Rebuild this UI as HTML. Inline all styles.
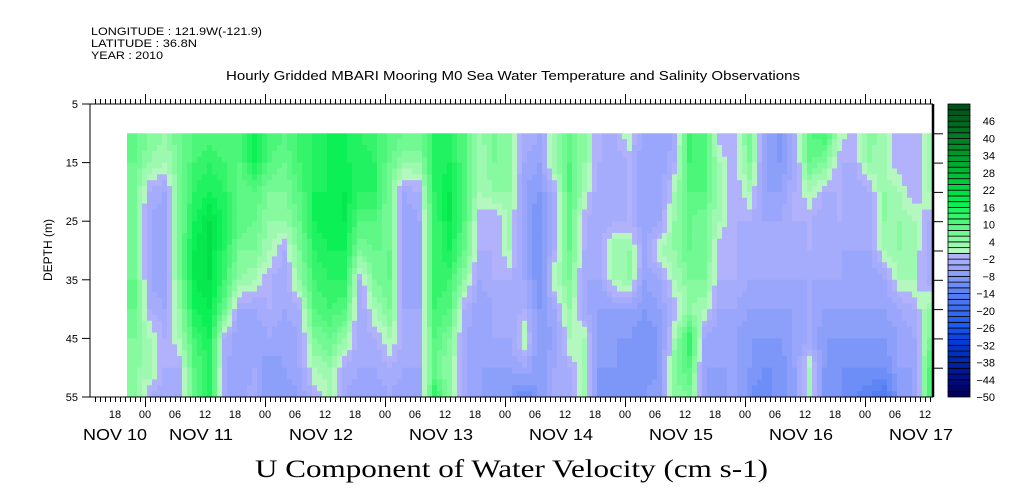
<!DOCTYPE html>
<html><head><meta charset="utf-8"><style>
body{margin:0;background:#fff;width:1009px;height:504px;overflow:hidden;font-family:"Liberation Sans",sans-serif}
svg{display:block}
</style></head><body>
<svg id="chart" width="1009" height="504" xmlns="http://www.w3.org/2000/svg" font-family="Liberation Sans, sans-serif">
<text x="91" y="35" font-size="11" textLength="171" lengthAdjust="spacingAndGlyphs">LONGITUDE : 121.9W(-121.9)</text>
<text x="91" y="47" font-size="11" textLength="106" lengthAdjust="spacingAndGlyphs">LATITUDE : 36.8N</text>
<text x="91" y="59" font-size="11" textLength="72" lengthAdjust="spacingAndGlyphs">YEAR : 2010</text>
<text x="226" y="80" font-size="12.5" textLength="574" lengthAdjust="spacingAndGlyphs">Hourly Gridded MBARI Mooring M0 Sea Water Temperature and Salinity Observations</text>
<text x="255" y="477" font-size="25" font-family="Liberation Serif, serif" textLength="513" lengthAdjust="spacingAndGlyphs">U Component of Water Velocity (cm s-1)</text>
<text transform="translate(52,250) rotate(-90)" font-size="12" text-anchor="middle">DEPTH (m)</text>
<g id="cells"></g>
<g id="axes"></g>
<g id="cbar"></g>
</svg>
<script>
// depth rows (m)
const depths = [10,15,20,25,30,35,40,45,50,55];
// column start times: hours since Nov 10 00:00, 3-hour steps
const colStartHour = 20.4;
const colStepHours = 3;
// U velocity values (cm/s), one array per 3-hour column, top to bottom
const values = [
[8,8,6,6,6,8,8,6,4,4],[6,4,-2,-4,-4,-4,-2,2,4,-2],[4,2,-4,-6,-6,-6,-4,-2,-2,-4],[8,6,6,6,8,6,4,2,-2,-4],
[10,12,14,16,18,18,16,12,10,8],[10,14,16,20,20,20,18,16,14,14],[10,12,14,16,14,12,8,-2,-4,-4],[12,10,8,10,6,4,-4,-6,-6,-6],
[18,16,10,8,6,2,-4,-6,-4,-2],[12,10,6,4,2,-2,-2,-4,-8,-8],[10,8,6,4,-2,-4,-4,-6,-6,-8],[12,12,10,8,6,4,-2,-4,-4,-6],
[14,14,16,16,14,12,10,6,2,-2],[16,16,16,18,16,14,12,8,4,2],[16,16,18,18,16,14,10,4,-2,-4],[14,16,14,10,6,-2,-4,-4,-4,-6],
[12,14,14,10,8,6,2,-2,-4,-6],[10,8,6,6,8,8,6,2,-2,-4],[8,4,-4,-6,-6,-6,-4,-2,-4,-6],[8,4,-2,-4,-6,-6,-4,-4,-4,-6],
[14,14,14,12,12,14,12,10,8,14],[14,16,18,18,16,12,10,6,4,4],[10,10,10,10,8,4,-2,-4,-4,-4],[4,2,2,-2,-2,-4,-6,-6,-6,-6],
[6,6,4,-2,-2,-2,-4,-4,-6,-8],[4,4,4,2,2,-2,-4,-4,-6,-8],[-2,-4,-6,-6,-6,-4,-2,2,-4,-12],[-4,-6,-8,-10,-10,-10,-8,-8,-8,-8],
[2,4,-2,-4,-2,2,-4,-6,-4,-4],[8,10,10,8,8,6,4,2,-2,-4],[4,4,2,-2,-2,-4,-4,2,2,2],[-2,-2,-4,-4,-2,-4,-6,-8,-8,-10],
[-2,-4,-4,-2,4,2,-6,-8,-8,-10],[2,-2,-2,-2,4,4,-6,-8,-10,-10],[-6,-6,-6,-6,-4,-6,-8,-10,-10,-8],[-6,-6,-6,-4,2,-4,-6,-8,-8,-6],
[-4,-2,2,4,4,2,-2,2,6,4],[12,12,10,8,8,6,4,14,10,6],[10,10,10,6,8,6,2,-4,-6,-6],[-2,2,2,2,-2,-2,-4,-6,-6,-8],
[-2,-2,-2,-2,-2,-2,-4,-6,-6,-4],[8,6,2,-2,-4,-4,-6,-8,-8,-10],[-4,-6,-6,-4,-4,-4,-6,-8,-10,-12],[-10,-8,-6,-4,-2,-4,-6,-8,-10,-8],
[-4,-4,-2,-2,-4,-4,-6,-6,-6,-8],[10,8,2,-2,-2,-4,-4,-4,2,4],[12,6,-2,-4,-4,-4,-6,-8,-8,-10],[2,-2,-2,-2,-4,-4,-6,-8,-10,-10],
[-2,-2,-4,-4,-4,-6,-6,-8,-10,-12],[6,4,-2,-4,-4,-6,-6,-8,-10,-14],[2,2,4,4,2,-4,-6,-8,-10,-16],[-2,-2,2,4,4,2,-4,-6,-6,-8],
[-2,-2,-2,2,2,2,-2,-4,-6,-6],[2,2,2,-2,-4,-4,4,6,10,12]
];
const hourLabels = ["18","00","06","12"];
const dayLabels = ["NOV 10","NOV 11","NOV 12","NOV 13","NOV 14","NOV 15","NOV 16","NOV 17"];
const depthTicks = [5,15,25,35,45,55];
const cbarTicks = [46,40,34,28,22,16,10,4,-2,-8,-14,-20,-26,-32,-38,-44,-50];

const NS="http://www.w3.org/2000/svg";
const L=90,R=933,T=104,B=397;
const hx = h => 145 + (h-24)*5;           // hours since Nov 10 00:00 -> px
const dy = d => T + (d-5)*(B-T)/50;        // depth -> px
const vmin=-50, vmax=52;
const stops=[[-50,[0,0,90]],[-44,[0,16,140]],[-38,[0,40,175]],[-32,[0,60,215]],[-26,[30,90,240]],[-20,[60,110,240]],[-14,[95,133,245]],[-8,[140,160,250]],[-2,[178,178,252]],[0,[180,248,192]],[4,[135,250,160]],[10,[75,246,120]],[16,[10,240,85]],[22,[0,215,64]],[28,[0,180,52]],[34,[0,150,44]],[40,[0,122,37]],[46,[0,96,32]],[52,[0,72,24]]];
function color(v){
  let q=Math.floor(v/2)*2; if(q<vmin)q=vmin; if(q>50)q=50;
  for(let i=0;i<stops.length-1;i++){const a=stops[i],b=stops[i+1];
    if(q>=a[0]&&q<=b[0]){const t=(q-a[0])/(b[0]-a[0]||1);
      const c=a[1].map((x,j)=>Math.round(x+(b[1][j]-x)*t));return `rgb(${c})`;}}
  return 'rgb(0,72,24)';
}
function mk(tag,attrs,parent){const e=document.createElementNS(NS,tag);for(const k in attrs)e.setAttribute(k,attrs[k]);parent.appendChild(e);return e;}

// heatmap: bilinear interpolation, 1-hour x 1-m sub-cells
const cells=document.getElementById('cells');
function sample(ci,d){
  const col=values[ci];
  const k=Math.min(depths.length-2,Math.max(0,Math.floor((d-depths[0])/5)));
  const t=Math.min(1,Math.max(0,(d-depths[k])/5));
  return col[k]+(col[k+1]-col[k])*t;
}
const nC=values.length;
for(let i=0;i<nC;i++){
  for(let s=0;s<3;s++){
    const h0=colStartHour+i*colStepHours+s, x0=hx(h0), x1=Math.min(R,hx(h0+1));
    if(x0>=R) continue;
    const fc=i+(s+0.5)/3-0.5; // fractional column centre
    const ia=Math.max(0,Math.floor(fc)), ib=Math.min(nC-1,ia+1), tf=Math.max(0,Math.min(1,fc-ia));
    for(let d=depths[0]; d<depths[depths.length-1]; d+=1){
      const v=sample(ia,d+0.5)*(1-tf)+sample(ib,d+0.5)*tf;
      const r=mk('rect',{x:x0,y:dy(d),width:x1-x0+0.6,height:dy(d+1)-dy(d)+0.6,fill:color(v)},cells);
      
      
    }
  }
}

const ax=document.getElementById('axes');
mk('line',{x1:L,y1:T,x2:R,y2:T,stroke:'#000','stroke-width':1},ax);
mk('line',{x1:L,y1:B,x2:R,y2:B,stroke:'#000','stroke-width':1},ax);
mk('line',{x1:L,y1:T,x2:L,y2:B,stroke:'#000','stroke-width':1},ax);
mk('line',{x1:R,y1:T,x2:R,y2:B,stroke:'#000','stroke-width':2.5},ax);
for(let h=14; h<=181; h++){
  const x=hx(h)+0.5; const big=(h%24===0);
  mk('line',{x1:x,y1:T,x2:x,y2:T-(big?10:5),stroke:'#000'},ax);
  mk('line',{x1:x,y1:B,x2:x,y2:B+(big?10:5),stroke:'#000'},ax);
}
for(let h=18; h<=180; h+=6){
  const t=mk('text',{x:hx(h),y:418,'font-size':11,'text-anchor':'middle'},ax);
  t.textContent=hourLabels[(h/6-3+4)%4];
  
  
}
dayLabels.forEach((s,i)=>{
  const cx = i===0 ? 115 : hx(i*24+12)-4;
  const t=mk('text',{x:cx-32,y:440,'font-size':16,textLength:64,lengthAdjust:'spacingAndGlyphs'},ax);
  t.textContent=s;
  
  
});
depthTicks.forEach(d=>{
  const t=mk('text',{x:78,y:dy(d)+4,'font-size':11,'text-anchor':'end'},ax);
  t.textContent=d;
  
  
  mk('line',{x1:L-8,y1:dy(d),x2:L,y2:dy(d),stroke:'#000'},ax);
});
for(let d=10; d<=50; d+=5){ mk('line',{x1:R,y1:dy(d)+0.5,x2:R+10,y2:dy(d)+0.5,stroke:'#000'},ax); }

const cb=document.getElementById('cbar');
const cT=104,cB=397,cL=948,cW=22,nb=(vmax-vmin)/2,bh=(cB-cT)/nb;
for(let k=0;k<nb;k++){
  const v=vmin+2*k;
  const r=mk('rect',{x:cL,y:cB-(k+1)*bh,width:cW,height:bh,fill:color(v+1),stroke:'#000','stroke-width':0.8},cb);
  
  
}
cbarTicks.forEach(v=>{
  const t=mk('text',{x:995,y:cB-(v-vmin)/(vmax-vmin)*(cB-cT)+4,'font-size':11,'text-anchor':'end'},cb);
  t.textContent=v<0?'\u2212'+(-v):v;
  
  
});
</script>
</body></html>
